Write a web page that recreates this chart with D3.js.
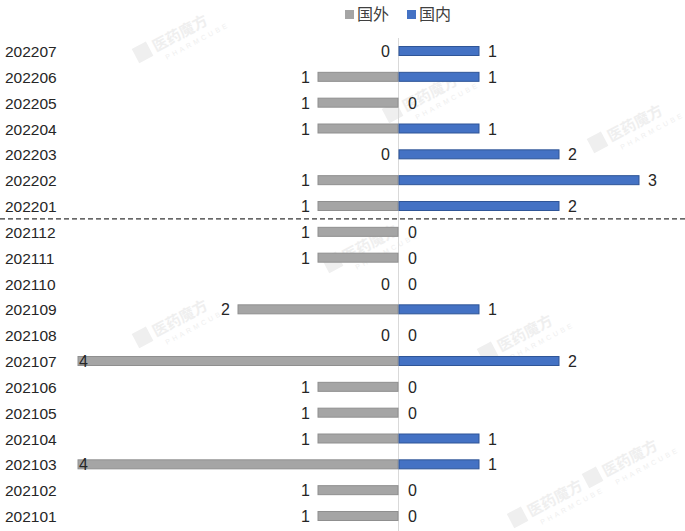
<!DOCTYPE html>
<html><head><meta charset="utf-8">
<script src="https://cdn.jsdelivr.net/npm/d3@7"></script>
<style>body{margin:0;background:#fff}svg{display:block}</style>
</head><body>
<svg id="c" width="685" height="531"></svg>
<script>
const categories = ["202207","202206","202205","202204","202203","202202","202201","202112","202111","202110","202109","202108","202107","202106","202105","202104","202103","202102","202101"];
const foreign = [0,1,1,1,0,1,1,1,1,0,2,0,4,1,1,1,4,1,1];
const domestic = [1,1,0,1,2,3,2,0,0,0,1,0,2,0,0,1,1,0,0];
const seriesNames = ["国外","国内"];
const colors = ["#a5a5a5","#4472c4"];
const strokes = ["#8f8f8f","#2f5597"];

const svg = d3.select("#c");
const W = 685, H = 531;

// watermarks
const wm = [[170,40],[625,130],[360,250],[170,325],[515,340],[620,465],[545,505],[420,100]];
const wg = svg.append("g");
wm.forEach(([x,y])=>{
  const g = wg.append("g").attr("transform",`translate(${x},${y}) rotate(-28)`);
  g.append("rect").attr("x",-38).attr("y",-10).attr("width",16).attr("height",16).attr("fill","#efefef");
  g.append("text").attr("x",-18).attr("y",4).attr("font-family","Noto Sans CJK SC").attr("font-size",15).attr("font-weight","bold").attr("fill","#efefef").text("医药魔方");
  g.append("text").attr("x",-12).attr("y",16).attr("font-family","Liberation Sans").attr("font-size",7).attr("letter-spacing","3").attr("fill","#efefef").text("PHARMCUBE");
});

const y = d3.scalePoint().domain(categories).range([51,516]);
const x = d3.scaleLinear().domain([-4,3]).range([78,638]);
const bh = 9;

// center axis line
svg.append("line").attr("x1",x(0)+0.5).attr("x2",x(0)+0.5).attr("y1",38).attr("y2",H).attr("stroke","#d9d9d9").attr("stroke-width",1);

// foreign bars (left)
svg.append("g").selectAll("rect").data(categories).join("rect")
  .attr("x",(d,i)=>x(-foreign[i])).attr("width",(d,i)=>x(0)-x(-foreign[i]))
  .attr("y",d=>y(d)-bh/2).attr("height",bh)
  .attr("fill",colors[0]).attr("stroke",(d,i)=>foreign[i]?strokes[0]:"none").attr("stroke-width",1);
// domestic bars (right)
svg.append("g").selectAll("rect").data(categories).join("rect")
  .attr("x",x(0)+1).attr("width",(d,i)=>x(domestic[i])-x(0))
  .attr("y",d=>y(d)-bh/2).attr("height",bh)
  .attr("fill",colors[1]).attr("stroke",(d,i)=>domestic[i]?strokes[1]:"none").attr("stroke-width",1);

// value labels
const lf = "Liberation Sans, Arial, sans-serif";
svg.append("g").selectAll("text").data(categories).join("text")
  .attr("x",(d,i)=>{const e=x(-foreign[i])-8; return e<80? x(-foreign[i])+1 : e;})
  .attr("text-anchor",(d,i)=>(x(-foreign[i])-8)<80?"start":"end")
  .attr("y",d=>y(d)+6).attr("font-family",lf).attr("font-size",16).attr("fill","#262626")
  .text((d,i)=>foreign[i]);
svg.append("g").selectAll("text").data(categories).join("text")
  .attr("x",(d,i)=>x(domestic[i])+10).attr("y",d=>y(d)+6)
  .attr("font-family",lf).attr("font-size",16).attr("fill","#262626")
  .text((d,i)=>domestic[i]);

// category labels
svg.append("g").selectAll("text").data(categories).join("text")
  .attr("x",5).attr("y",d=>y(d)+6).attr("font-family",lf).attr("font-size",15.5).attr("fill","#262626")
  .text(d=>d);

// dashed separator between 202201 and 202112
const ys = (y("202201")+y("202112"))/2;
svg.append("line").attr("x1",0).attr("x2",W).attr("y1",ys).attr("y2",ys)
  .attr("stroke","#000").attr("stroke-width",1).attr("stroke-dasharray","5,3");

// legend
const lg = svg.append("g");
const lx = [345,407];
seriesNames.forEach((n,i)=>{
  lg.append("rect").attr("x",lx[i]).attr("y",10).attr("width",9).attr("height",9).attr("fill",colors[i]);
  lg.append("text").attr("x",lx[i]+12).attr("y",20).attr("font-family","Noto Sans CJK SC").attr("font-size",16).attr("fill","#404040").text(n);
});
</script>
</body></html>
